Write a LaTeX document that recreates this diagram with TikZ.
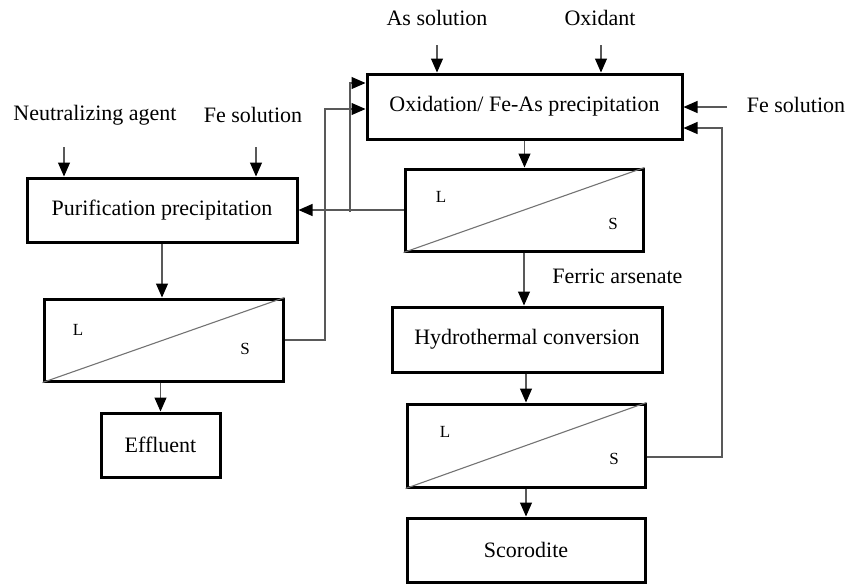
\documentclass[tikz,border=0pt]{standalone}
\usepackage{fontspec}
\setmainfont{Liberation Serif}
\usetikzlibrary{arrows.meta}

\tikzset{
  unit/.style={draw, line width=1.5pt, inner sep=0pt, font=\fontsize{11}{13}\selectfont},
  flow/.style={draw=black!65, line width=0.55pt},
  diag/.style={draw=black!55, line width=0.55pt},
  lbl/.style={font=\fontsize{11}{13}\selectfont, inner sep=0pt},
  phase/.style={font=\fontsize{8.5}{10}\selectfont, inner sep=0pt},
}

\begin{document}
\begin{tikzpicture}[x=0.5pt, y=-0.5pt, >={Triangle[length=7pt, width=6pt, black]}]
      \useasboundingbox (0,0) rectangle (851,585);
      \node[unit, minimum width=157.5pt, minimum height=32.5pt] (ox) at (524.5, 106.5) {Oxidation/ Fe-As precipitation};
      \node[unit, minimum width=119pt, minimum height=41pt] (lsA) at (524, 210) {};
      \node[unit, minimum width=135pt, minimum height=32.5pt] (hyd) at (527, 339.5) {Hydrothermal conversion};
      \node[unit, minimum width=119pt, minimum height=41.5pt] (lsB) at (526, 445.5) {};
      \node[unit, minimum width=119pt, minimum height=32pt] (sco) at (526, 550) {Scorodite};
      \node[unit, minimum width=135pt, minimum height=32pt] (pur) at (162, 210) {Purification precipitation};
      \node[unit, minimum width=119.5pt, minimum height=41pt] (lsC) at (163.5, 340) {};
      \node[unit, minimum width=59.5pt, minimum height=32pt] (eff) at (160.5, 445) {Effluent};

      \path[diag] (lsA.south west) -- (lsA.north east);
      \path[diag] (lsB.south west) -- (lsB.north east);
      \path[diag] (lsC.south west) -- (lsC.north east);
      \node[phase] (lsAl) at (441, 197) {L};
      \node[phase] (lsAs) at (613, 224) {S};
      \node[phase] (lsBl) at (445, 432) {L};
      \node[phase] (lsBs) at (614, 459) {S};
      \node[phase] (lsCl) at (78, 330) {L};
      \node[phase] (lsCs) at (245, 349) {S};

      \node[lbl] (asl) at (437, 18) {As solution};
      \node[lbl] (oxd) at (600, 18) {Oxidant};
      \node[lbl] (feR) at (796, 105) {Fe solution};
      \node[lbl] (neu) at (95, 115) {Neutralizing agent};
      \node[lbl] (feL) at (253, 115) {Fe solution};
      \node[lbl, anchor=west] (fer) at (552, 276) {Ferric arsenate};

      \coordinate (aslin) at (437, 45);
      \coordinate (oxdin) at (601, 45);
      \coordinate (neuin) at (64, 147);
      \coordinate (feLin) at (256, 147);
      \coordinate (feRin) at (727, 107);
      \coordinate (j1) at (350, 212);
      \coordinate (r1) at (325, 109);
      \coordinate (r2) at (722, 128);

      \path[flow, ->] (aslin) -- (aslin |- ox.north);
      \path[flow, ->] (oxdin) -- (oxdin |- ox.north);
      \path[flow, ->] (neuin) -- (neuin |- pur.north);
      \path[flow, ->] (feLin) -- (feLin |- pur.north);
      \path[flow, ->] (feRin) -- (feRin -| ox.east);
      \path[flow, ->] (ox.south) -- (ox.south |- lsA.north);
      \path[flow, ->] (lsA.south) -- (lsA.south |- hyd.north);
      \path[flow, ->] (hyd.south -| lsB.north) -- (lsB.north);
      \path[flow, ->] (lsB.south) -- (sco.north);
      \path[flow, ->] (pur.south) -- (pur.south |- lsC.north);
      \path[flow, ->] (lsC.south -| eff.north) -- (eff.north);
      \path[flow, ->] (lsA.west) -- (pur.east);
      \path[flow, ->] (j1) |- ([yshift=11.75pt]ox.west);
      \path[flow, ->] (lsC.east) -| (r1) -- (r1 -| ox.west);
      \path[flow, ->] ([yshift=-5.75pt]lsB.east) -| (r2) -- (r2 -| ox.east);
    \end{tikzpicture}
\end{document}
